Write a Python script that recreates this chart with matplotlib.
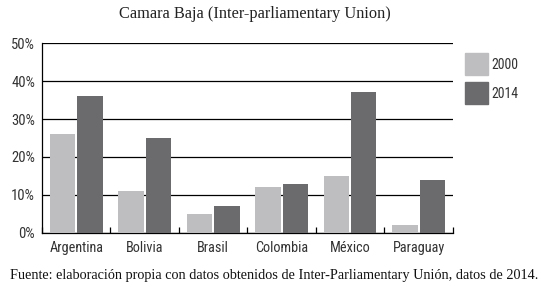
import numpy as np
import matplotlib.pyplot as plt
from matplotlib.patches import Patch

paises = ["Argentina", "Bolivia", "Brasil", "Colombia", "México", "Paraguay"]
v2000 = [26, 11, 5, 12, 15, 2]
v2014 = [36, 25, 7, 13, 37, 14]
yticks = [0, 10, 20, 30, 40, 50]

c2000 = "#bebec0"
c2014 = "#6b6b6d"
sans = ["Liberation Sans Narrow", "Roboto Condensed", "Open Sans Condensed", "Roboto", "DejaVu Sans"]
serif = ["Liberation Serif", "DejaVu Serif"]

fig = plt.figure(figsize=(5.41, 2.99), dpi=100)
ax = fig.add_axes([0.0776, 0.221, 0.7594, 0.635])

x = np.arange(len(paises))
w = 0.37
ax.bar(x - w/2 - 0.015, v2000, w, color=c2000, zorder=3)
ax.bar(x + w/2 + 0.015, v2014, w, color=c2014, zorder=3)

ax.set_xlim(-0.5, len(paises) - 0.5)
ax.set_ylim(0, 50)
ax.set_yticks(yticks)
ax.set_yticklabels([f"{t}%" for t in yticks], family=sans, fontsize=10.5, color="#333333")
ax.yaxis.grid(True, color="black", linewidth=0.9, zorder=0)
ax.tick_params(axis="y", length=0, pad=5)

ax.set_xticks(x)
ax.set_xticklabels(paises, family=sans, fontsize=10.3, color="#333333")
ax.tick_params(axis="x", length=0, pad=6)
ax.set_xticks(np.arange(len(paises) + 1) - 0.5, minor=True)
ax.tick_params(axis="x", which="minor", length=4, direction="in", width=0.9)

for s in ["top", "right"]:
    ax.spines[s].set_visible(False)
ax.spines["left"].set_linewidth(0.9)
ax.spines["bottom"].set_linewidth(0.9)

handles = [Patch(color=c2000, label="2000"), Patch(color=c2014, label="2014")]
leg = fig.legend(handles=handles, loc="upper left", bbox_to_anchor=(0.85, 0.84),
                 frameon=False, handlelength=1.6, handleheight=2.0,
                 handletextpad=0.3, labelspacing=0.55, borderaxespad=0,
                 prop={"family": sans, "size": 10})
for t in leg.get_texts():
    t.set_color("#333333")

fig.text(0.472, 0.952, "Camara Baja (Inter-parliamentary Union)", ha="center", va="center",
         family=serif, fontsize=11.8, color="#222222")
fig.text(0.018, 0.078, "Fuente: elaboración propia con datos obtenidos de Inter-Parliamentary Unión, datos de 2014.",
         ha="left", va="center", family=serif, fontsize=10.25, color="#111111")

fig.savefig("out.png", dpi=100)
